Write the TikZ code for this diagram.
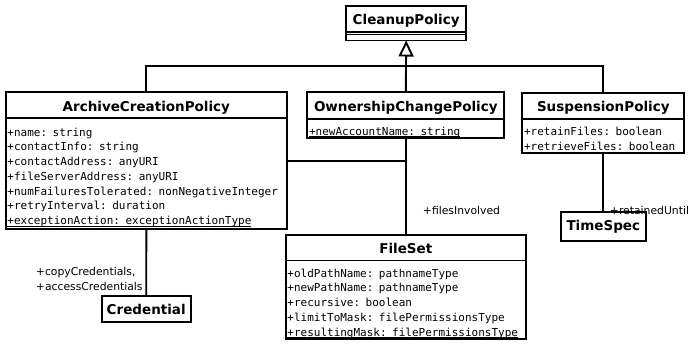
\documentclass[tikz,border=0pt]{standalone}
\usepackage{fontspec}
\setsansfont{DejaVu Sans}
\setmonofont{DejaVu Sans Mono}
\usetikzlibrary{positioning,arrows.meta}
\newcommand\rowtop[1]{\rule{0pt}{#1pt}}
\newcommand\lastattr[2]{\underline{\smash{#2}}\rule[-#1pt]{0pt}{#1pt}}

\begin{document}
\begin{tikzpicture}[
  x=1pt,y=-1pt,
  line width=1.9pt,
  cls/.style={draw,outer sep=0pt,inner sep=0pt,text height=12pt,text depth=0pt,font=\fontsize{13.5}{16}\selectfont\sffamily\bfseries},
  attrs/.style={draw,outer sep=0pt,inner xsep=1.8pt,inner ysep=0pt,align=left,font=\fontsize{11}{14.7}\selectfont\ttfamily},
  gen/.style={-{Triangle[open,width=15pt,length=16pt,line width=1.9pt]}},
  lbl/.style={font=\fontsize{10.8}{15}\selectfont\sffamily,inner sep=0pt},
]
\path[use as bounding box,fill=white] (0,0) rectangle (689,344);

% classes
\node[cls,minimum width=119.7pt,minimum height=26pt] (cp) at (406.2,19) {CleanupPolicy};
\node[cls,minimum width=119.7pt,minimum height=2.5pt,text height=0pt,below=0pt of cp] (cpA) {};
\node[cls,minimum width=119.7pt,minimum height=6pt,text height=0pt,below=0pt of cpA] (cpB) {};

\node[cls,minimum width=281.3pt,minimum height=26pt] (acp) at (146.35,105.3) {ArchiveCreationPolicy};
\node[attrs,text width=277.7pt,below=0pt of acp] (acpA) {\rowtop{18}+name: string\\+contactInfo: string\\+contactAddress: anyURI\\+fileServerAddress: anyURI\\+numFailuresTolerated: nonNegativeInteger\\+retryInterval: duration\\\lastattr{4.5}{+exceptionAction: exceptionActionType}};

\node[cls,minimum width=197pt,minimum height=26.4pt] (ocp) at (405.8,105.5) {OwnershipChangePolicy};
\node[attrs,text width=193.4pt,below=0pt of ocp] (ocpA) {\rowtop{16.5}\lastattr{2.5}{+newAccountName: string}};

\node[cls,minimum width=162pt,minimum height=26.6pt] (sp) at (603.3,106) {SuspensionPolicy};
\node[attrs,text width=158.4pt,below=0pt of sp] (spA) {\rowtop{16.6}+retainFiles: boolean\\\lastattr{2.7}{+retrieveFiles: boolean}};

\node[cls,minimum width=240.4pt,minimum height=25.5pt] (fs) at (405.8,247.75) {FileSet};
\node[attrs,text width=236.8pt,below=0pt of fs] (fsA) {\rowtop{16.8}+oldPathName: pathnameType\\+newPathName: pathnameType\\+recursive: boolean\\+limitToMask: filePermissionsType\\\lastattr{2.9}{+resultingMask: filePermissionsType}};

\node[cls,minimum width=84.7pt,minimum height=28.7pt,text height=8pt] (ts) at (603.3,226.7) {TimeSpec};
\node[cls,minimum width=89pt,minimum height=25.7pt,text height=11pt] (cred) at (146.2,308.8) {Credential};

% generalization
\coordinate (bus) at (406,66);
\draw (acp.north) |- (bus) -| (sp.north);
\draw[gen] (ocp.north) -- (cpB.south);

% associations
\coordinate (jn) at (406,161);
\draw (ocpA.south) -- (fs.north);
\draw (acpA.east |- jn) -- (jn);
\draw (acpA.south) -- (cred.north);
\draw (spA.south) -- (ts.north);

\node[lbl,anchor=base west] (fiLbl) at (422,215) {+filesInvolved};
\node[lbl,anchor=base west] (ruLbl) at (609,215) {+retainedUntil};
\node[lbl,anchor=north west,align=left] (ccLbl) at (35,266) {+copyCredentials,\\+accessCredentials};
\end{tikzpicture}
\end{document}
